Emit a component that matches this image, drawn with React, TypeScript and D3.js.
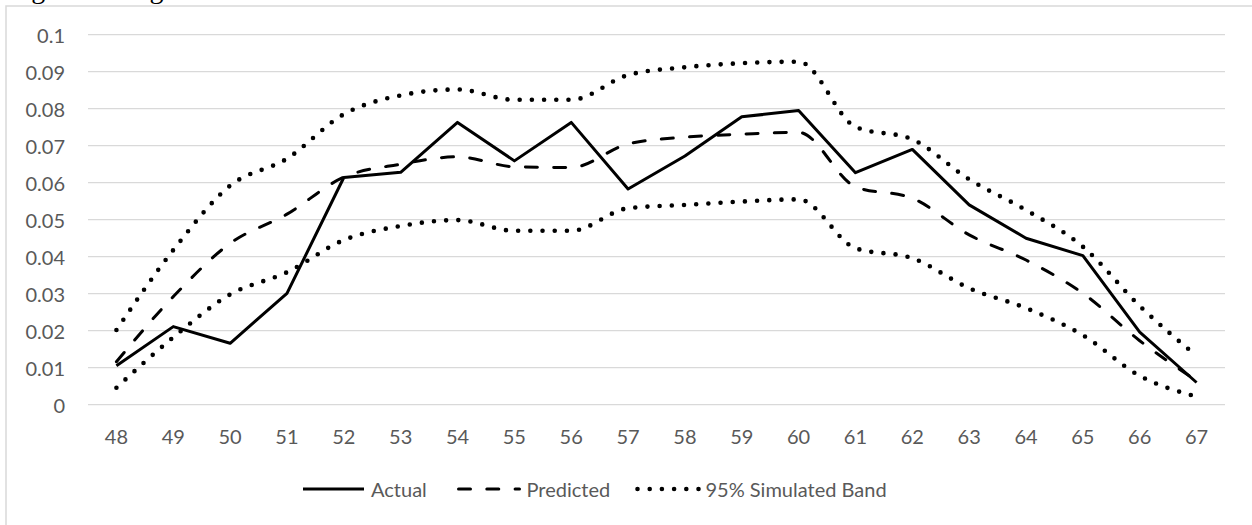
import React from "react";
import * as d3 from "d3";

// Age categories along the x axis
const ages: string[] = ["48", "49", "50", "51", "52", "53", "54", "55", "56", "57", "58", "59", "60", "61", "62", "63", "64", "65", "66", "67"];

// Observed rates
const actual: number[] = [0.0105, 0.0211, 0.0166, 0.0301, 0.0614, 0.0628, 0.0763, 0.0659, 0.0763, 0.0583, 0.0672, 0.0778, 0.0795, 0.0627, 0.0690, 0.0540, 0.0450, 0.0403, 0.0196, 0.0060];

// Model predictions
const predicted: number[] = [0.0116, 0.0292, 0.0436, 0.0515, 0.0615, 0.0650, 0.0670, 0.0643, 0.0641, 0.0705, 0.0723, 0.0731, 0.0736, 0.0589, 0.0558, 0.0459, 0.0391, 0.0301, 0.0173, 0.0065];

// 95% simulated band, upper and lower edges
const bandUpper: number[] = [0.0202, 0.0418, 0.0592, 0.0665, 0.0785, 0.0836, 0.0852, 0.0824, 0.0824, 0.0891, 0.0912, 0.0923, 0.0927, 0.0751, 0.0717, 0.0609, 0.0526, 0.0427, 0.0267, 0.0132];
const bandLower: number[] = [0.0046, 0.0182, 0.0298, 0.0358, 0.0445, 0.0483, 0.0499, 0.0470, 0.0470, 0.0531, 0.0540, 0.0549, 0.0555, 0.0423, 0.0396, 0.0315, 0.0261, 0.0188, 0.0078, 0.0022];

// Y axis tick values and labels
const yTicks: number[] = [0, 0.01, 0.02, 0.03, 0.04, 0.05, 0.06, 0.07, 0.08, 0.09, 0.1];
const yTickLabels: string[] = ["0", "0.01", "0.02", "0.03", "0.04", "0.05", "0.06", "0.07", "0.08", "0.09", "0.1"];

// Legend entries
const legendLabels: string[] = ["Actual", "Predicted", "95% Simulated Band"];

const W = 1252;
const H = 525;
const FONT = "Lato, 'Open Sans', sans-serif";
const FONT_SIZE = 20;
const TEXT_COLOR = "#595959";
const GRID_COLOR = "#d9d9d9";

const DASH = "12 16.3";
const DOT = "0 12.2";
const DOT_WIDTH = 4.6;

export default function App() {
  const x = d3.scaleBand<string>().domain(ages).range([88, 1225]).padding(0);
  const cx = (a: string) => (x(a) as number) + x.bandwidth() / 2;
  const y = d3.scaleLinear().domain([0, 0.1]).range([404.7, 34.7]);

  const straight = d3
    .line<number>()
    .x((_, i) => cx(ages[i]))
    .y((v) => y(v));
  const smooth = d3
    .line<number>()
    .x((_, i) => cx(ages[i]))
    .y((v) => y(v))
    .curve(d3.curveMonotoneX);

  const legendY = 489;
  const legendItems = [
    { label: legendLabels[0], x0: 303, dash: undefined as string | undefined, width: 3, cap: "butt" },
    { label: legendLabels[1], x0: 458.5, dash: DASH, width: 3, cap: "round" },
    { label: legendLabels[2], x0: 637.5, dash: DOT, width: DOT_WIDTH, cap: "round" },
  ];

  return (
    <svg
      width={W}
      height={H}
      viewBox={`0 0 ${W} ${H}`}
      style={{ position: "absolute", left: 0, top: 0, display: "block", background: "#fff" }}
    >
      <rect x={0} y={0} width={W} height={H} fill="#fff" />
      {/* caption line above the chart frame */}
      <text x={8} y={-2} fontFamily="'Liberation Serif', 'Times New Roman', serif" fontSize={28} fill="#000">
        Figure 10: Age
      </text>
      {/* chart frame */}
      <rect x={6} y={6} width={W + 20} height={H + 20} fill="none" stroke={GRID_COLOR} strokeWidth={1.5} />

      {/* gridlines */}
      {yTicks.map((t) => (
        <line key={`g${t}`} x1={88} x2={1225} y1={y(t)} y2={y(t)} stroke={GRID_COLOR} strokeWidth={1.3} />
      ))}

      {/* y tick labels */}
      {yTicks.map((t, i) => (
        <text
          key={`yl${t}`}
          x={65}
          y={y(t)}
          textAnchor="end"
          dominantBaseline="central"
          fontFamily={FONT}
          fontSize={FONT_SIZE}
          fill={TEXT_COLOR}
        >
          {yTickLabels[i]}
        </text>
      ))}

      {/* x tick labels */}
      {ages.map((a) => (
        <text
          key={`xl${a}`}
          x={cx(a)}
          y={436}
          textAnchor="middle"
          dominantBaseline="central"
          fontFamily={FONT}
          fontSize={FONT_SIZE}
          fill={TEXT_COLOR}
        >
          {a}
        </text>
      ))}

      {/* series */}
      <path d={smooth(bandUpper) ?? ""} fill="none" stroke="#000" strokeWidth={DOT_WIDTH} strokeDasharray={DOT} strokeLinecap="round" />
      <path d={smooth(bandLower) ?? ""} fill="none" stroke="#000" strokeWidth={DOT_WIDTH} strokeDasharray={DOT} strokeLinecap="round" />
      <path d={smooth(predicted) ?? ""} fill="none" stroke="#000" strokeWidth={3} strokeDasharray={DASH} strokeLinecap="round" />
      <path d={straight(actual) ?? ""} fill="none" stroke="#000" strokeWidth={3} strokeLinejoin="round" />

      {/* legend */}
      {legendItems.map((it) => (
        <g key={it.label}>
          <line
            x1={it.x0}
            x2={it.x0 + 61}
            y1={legendY}
            y2={legendY}
            stroke="#000"
            strokeWidth={it.width}
            strokeDasharray={it.dash}
            strokeLinecap={it.cap as any}
          />
          <text
            x={it.x0 + 68}
            y={legendY}
            dominantBaseline="central"
            fontFamily={FONT}
            fontSize={FONT_SIZE}
            fill={TEXT_COLOR}
          >
            {it.label}
          </text>
        </g>
      ))}
    </svg>
  );
}
